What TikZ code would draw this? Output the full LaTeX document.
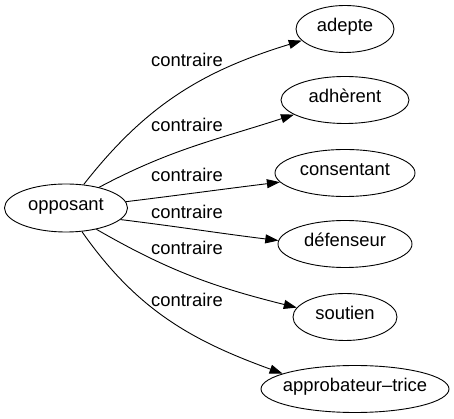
\documentclass[tikz,border=0pt]{standalone}
\usepackage{fontspec}
\setmainfont{Liberation Sans}
\usetikzlibrary{shapes.geometric,arrows.meta}
\tikzset{
  ell/.style={draw, ellipse, line width=0.9pt, inner sep=0pt, minimum height=47pt, text height=1ex, text depth=0pt},
  lab/.style={inner sep=0pt, text height=1ex, text depth=0pt},
  edge/.style={line width=0.9pt, -{Triangle[length=13pt,width=9pt]}},
}
\begin{document}
\begin{tikzpicture}[x=1pt,y=1pt,font=\fontsize{18.4}{20}\selectfont]
\useasboundingbox (0,0) rectangle (454,419);
\node[ell, minimum width=123pt, minimum height=48pt] (opp) at (66,211) {\makebox[0pt]{opposant}};
\node[ell, minimum width=98pt] (ade) at (345,390) {\makebox[0pt]{adepte}};
\node[ell, minimum width=128pt] (adh) at (345,319) {\makebox[0pt]{adhèrent}};
\node[ell, minimum width=140pt] (con) at (345,246) {\makebox[0pt]{consentant}};
\node[ell, minimum width=134pt] (def) at (345,175) {\makebox[0pt]{défenseur}};
\node[ell, minimum width=104pt] (sou) at (345,102) {\makebox[0pt]{soutien}};
\node[ell, minimum width=188pt] (app) at (355,30) {\makebox[0pt]{approbateur–trice}};
\node[lab] (l1) at (187,355) {contraire};
\node[lab] (l2) at (187,290) {contraire};
\node[lab] (l3) at (187,240) {contraire};
\node[lab] (l4) at (187,203) {contraire};
\node[lab] (l5) at (187,167) {contraire};
\node[lab] (l6) at (187,115) {contraire};
\draw[edge] (opp.53) to[out=52,in=197] (ade.195);
\draw[edge] (opp.32) to[out=28,in=198] (adh.196);
\draw[edge] (opp.6) to[out=7,in=187] (con.188);
\draw[edge] (opp.-12) to[out=-7,in=173] (def.177);
\draw[edge] (opp.-35) to[out=-30,in=166] (sou.169);
\draw[edge] (opp.-56) to[out=-55,in=160] (app.168);
\end{tikzpicture}
\end{document}
